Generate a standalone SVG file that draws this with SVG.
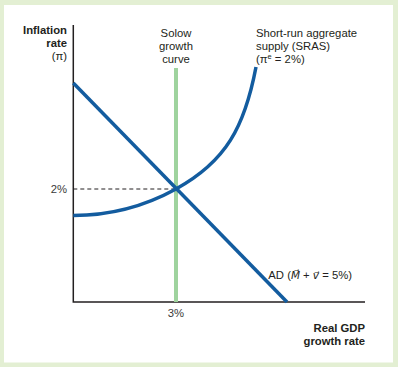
<svg xmlns="http://www.w3.org/2000/svg" width="398" height="367" viewBox="0 0 398 367">
<style>
text{font-family:"Liberation Sans",Arial,sans-serif;font-size:11.3px;fill:#231f20}
.b{font-weight:bold}
.axis{stroke:#231f20;stroke-width:1.5;fill:none}
.curve{stroke:#135c9f;stroke-width:3.5;fill:none}
.solow{stroke:#9fd39e;stroke-width:4;fill:none}
.tick{fill:#3a3a3a}
.vec{font-style:italic;font-family:"DejaVu Sans",sans-serif;font-size:10.5px}
</style>
<rect x="0" y="0" width="398" height="367" fill="#e3efd3"/>
<rect x="4" y="5" width="389" height="357.5" fill="#ffffff"/>
<g id="axes">
<path class="axis" d="M73.3,25 V302 H365"/>
<text class="b" x="67" y="34" text-anchor="end">Inflation</text>
<text class="b" x="67" y="47" text-anchor="end">rate</text>
<text x="67" y="60" text-anchor="end">(π)</text>
<text class="b" x="365" y="332" text-anchor="end">Real GDP</text>
<text class="b" x="365" y="345" text-anchor="end">growth rate</text>
<text class="tick" x="67" y="193" text-anchor="end">2%</text>
<text class="tick" x="176" y="317" text-anchor="middle">3%</text>
</g>
<g id="connectors">
<path d="M73.3,189 H176" stroke="#231f20" stroke-width="1" stroke-dasharray="4,3" fill="none"/>
</g>
<g id="solow">
<path class="solow" d="M176,68 V302"/>
<text x="176" y="37" text-anchor="middle">Solow</text>
<text x="176" y="50" text-anchor="middle">growth</text>
<text x="176" y="63" text-anchor="middle">curve</text>
</g>
<g id="sras">
<path class="curve" d="M73.3,215.5 C115,215.5 150,203.3 176,189 C226,161.5 244.6,127 256,67"/>
<text x="256" y="37">Short-run aggregate</text>
<text x="256" y="50">supply (SRAS)</text>
<text x="256" y="63">(π<tspan font-size="7.5" dy="-4">e</tspan><tspan dy="4"> = 2%)</tspan></text>
</g>
<g id="ad">
<path class="curve" d="M73.3,83 L287,302"/>
<text x="268.3" y="279">AD (<tspan class="vec">M⃗</tspan> + <tspan class="vec">v⃗</tspan> = 5%)</text>
</g>
</svg>
